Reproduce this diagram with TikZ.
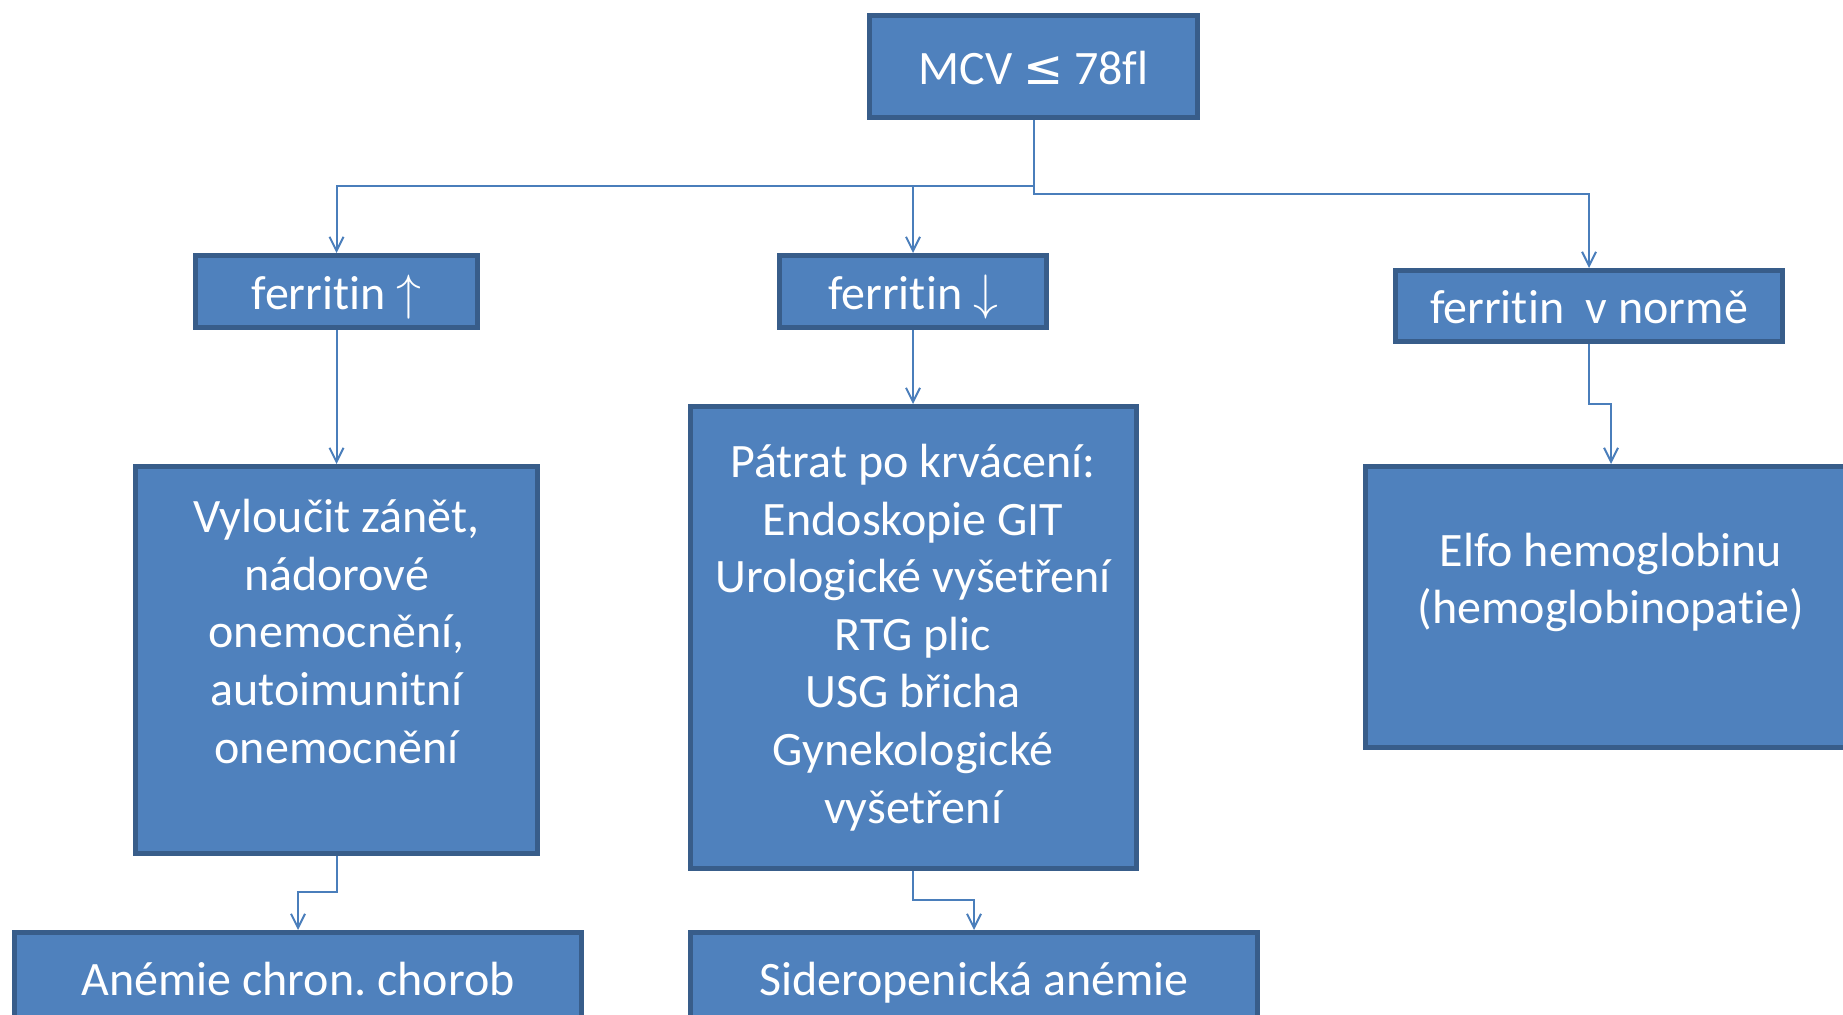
\documentclass[tikz,border=0pt]{standalone}
\usepackage{fontspec}
\setmainfont[Ligatures={TeX,NoCommon}]{Carlito}
\newfontfamily\symfont{DejaVu Sans}
\usepackage{tikz}
\usetikzlibrary{arrows.meta}

\definecolor{boxfill}{HTML}{4F81BD}
\definecolor{boxline}{HTML}{385D8A}
\definecolor{linkcol}{HTML}{4A7EBB}
\frenchspacing

\begin{document}
\begin{tikzpicture}[x=0.5pt,y=-0.5pt,
    box/.style={draw=boxline,fill=boxfill,line width=2.5pt,text=white,align=center,
      inner sep=0pt,font=\fontsize{24}{28.8}\selectfont},
    oneline/.style={box,text height=18pt,text depth=0pt},
    link/.style={draw=linkcol,line width=1pt,-{Straight Barb[length=7pt,width=7pt]}}]
  \useasboundingbox (0,0) rectangle (1843,1015);
  % top
  \node[oneline,minimum width=164pt,minimum height=51pt] (mcv) at (1033.5,66.5) {MCV {\symfont≤} 78fl};
  % ferritin level
  \node[oneline,minimum width=141pt,minimum height=36pt] (fup) at (336.5,291.5) {ferritin $\uparrow$};
  \node[oneline,minimum width=133.5pt,minimum height=36pt] (fdown) at (913,291.5) {ferritin $\downarrow$};
  \node[oneline,minimum width=193.5pt,minimum height=35.5pt] (fnorm) at (1589,306) {ferritin~~v normě};
  % investigations
  \node[box,minimum width=201pt,minimum height=193.5pt] (vyl) at (336.5,660)
    {Vyloučit zánět,\\nádorové\\onemocnění,\\autoimunitní\\onemocnění\\~};
  \node[box,minimum width=223pt,minimum height=231pt] (patrat) at (913,637.5)
    {Pátrat po krvácení:\\Endoskopie GIT\\Urologické vyšetření\\RTG plic\\USG břicha\\Gynekologické\\vyšetření};
  \node[box,minimum width=245.5pt,minimum height=140.5pt] (elfo) at (1611,607)
    {Elfo hemoglobinu\\(hemoglobinopatie)\\~};
  % diagnoses
  \node[oneline,minimum width=283.5pt,minimum height=44.5pt] (anemie) at (298,977) {Anémie chron. chorob};
  \node[oneline,minimum width=283.5pt,minimum height=44.5pt] (sidero) at (974,977) {Sideropenická anémie};

  \draw[link] (mcv.south) -- ++(0,66) -| (fup.north);
  \draw[link] (mcv.south) -- ++(0,66) -| (fdown.north);
  \draw[link] (mcv.south) -- ++(0,74) -| (fnorm.north);
  \draw[link] (fup.south) -- (vyl.north);
  \draw[link] (fdown.south) -- (patrat.north);
  \draw[link] (fnorm.south) -- ++(0,60) -| (elfo.north);
  \draw[link] (vyl.south) -- ++(0,36) -| (anemie.north);
  \draw[link] (patrat.south) -- ++(0,29) -| (sidero.north);
\end{tikzpicture}
\end{document}
